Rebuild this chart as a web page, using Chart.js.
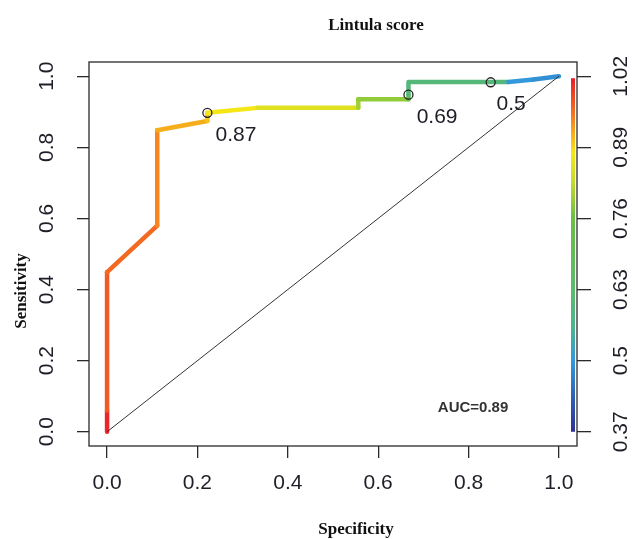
<!DOCTYPE html>
<html>
<head>
<meta charset="utf-8">
<title>Lintula score</title>
<script src="https://cdn.jsdelivr.net/npm/chart.js@4.4.1/dist/chart.umd.min.js"></script>
<style>
  html, body { margin: 0; padding: 0; background: #fff; }
  #wrap { width: 635px; height: 539px; }
</style>
</head>
<body>
<div id="wrap"><canvas id="roc" width="635" height="539"></canvas></div>
<script>
// ROC points: specificity axis, sensitivity, and the cutoff (colour) at each point
const rocX = [0, 0, 0, 0.111, 0.111, 0.222, 0.222, 0.333, 0.556, 0.556, 0.667, 0.667, 0.667, 0.849, 0.888, 0.944, 1];
const rocY = [0, 0.06, 0.449, 0.58, 0.848, 0.874, 0.897, 0.911, 0.911, 0.935, 0.935, 0.948, 0.984, 0.984, 0.984, 0.991, 1];
const rocCutoff = [1.02, 1.01, 0.97, 0.96, 0.94, 0.915, 0.9, 0.88, 0.855, 0.8, 0.79, 0.7, 0.6, 0.6, 0.6, 0.5, 0.49];

// printed cutoffs
const markX = [0.222, 0.667, 0.849];
const markY = [0.897, 0.948, 0.983];
const markLabels = ['0.87', '0.69', '0.5'];

// chance line
const chanceX = [0, 1];
const chanceY = [0, 1];

const axisTicks = [0, 0.2, 0.4, 0.6, 0.8, 1.0];
const cutoffTicks = [0.37, 0.5, 0.63, 0.76, 0.89, 1.02];
const cutoffMin = 0.37, cutoffMax = 1.02;

// colour key, bottom (low cutoff) to top
const keyValues = [0.37, 0.43, 0.50, 0.56, 0.63, 0.76, 0.83, 0.88, 0.93, 0.97, 1.02];
const keyColors = ['#2e3192', '#2d5fb0', '#3399db', '#4cb38f', '#5cbb6a', '#6abf45', '#c8dc2a', '#f5e616', '#f7941d', '#f15a24', '#e8192c'];

const aucText = 'AUC=0.89';

const tickFont = { family: "'Liberation Sans', Arial, sans-serif", size: 21 };
const tickColor = '#1e1e28';
const ink = '#2a2a2a';

function hexRgb(h) {
  const n = parseInt(h.slice(1), 16);
  return [(n >> 16) & 255, (n >> 8) & 255, n & 255];
}
function colorAt(v) {
  if (v <= keyValues[0]) return keyColors[0];
  for (let i = 1; i < keyValues.length; i++) {
    if (v <= keyValues[i]) {
      const t = (v - keyValues[i - 1]) / (keyValues[i] - keyValues[i - 1]);
      const a = hexRgb(keyColors[i - 1]), b = hexRgb(keyColors[i]);
      const c = a.map((x, k) => Math.round(x + (b[k] - x) * t));
      return 'rgb(' + c.join(',') + ')';
    }
  }
  return keyColors[keyColors.length - 1];
}

const pad = 0.04;
const cutPad = (cutoffMax - cutoffMin) * pad;

// text, box and colour key
const decor = {
  id: 'decor',
  afterDatasetsDraw(chart) {
    const c = chart.ctx, a = chart.chartArea;
    const x = chart.scales.x, y = chart.scales.y, y2 = chart.scales.y2;
    c.save();
    // colour key
    const top = y2.getPixelForValue(cutoffMax), bot = y2.getPixelForValue(cutoffMin);
    const g = c.createLinearGradient(0, bot, 0, top);
    keyValues.forEach((v, i) => g.addColorStop((v - cutoffMin) / (cutoffMax - cutoffMin), keyColors[i]));
    c.fillStyle = g;
    c.fillRect(a.right - 6, top + 2, 4, bot - top - 2);
    // box
    c.strokeStyle = ink;
    c.lineWidth = 1.3;
    c.strokeRect(a.left, a.top, a.right - a.left, a.bottom - a.top);
    // cutoff labels
    c.fillStyle = '#1e1e28';
    c.font = "21px 'Liberation Sans', Arial, sans-serif";
    c.textAlign = 'left';
    c.textBaseline = 'middle';
    markLabels.forEach((t, i) => {
      const w = c.measureText(t).width;
      c.fillText(t, x.getPixelForValue(markX[i]) + 0.2 * w, y.getPixelForValue(markY[i]) + 22);
    });
    // AUC
    c.fillStyle = '#333';
    c.font = "bold 15px 'Liberation Sans', Arial, sans-serif";
    c.textAlign = 'center';
    c.fillText(aucText, x.getPixelForValue(0.81), y.getPixelForValue(0.067));
    // titles
    c.fillStyle = '#111';
    c.font = "bold 17px 'Liberation Serif', 'Times New Roman', serif";
    c.fillText('Lintula score', (a.left + a.right) / 2 + 43, 26);
    c.fillText('Specificity', (a.left + a.right) / 2 + 23, 530);
    c.translate(22, (a.top + a.bottom) / 2 + 37);
    c.rotate(-Math.PI / 2);
    c.fillText('Sensitivity', 0, 0);
    c.restore();
  }
};

const setTicks = vals => s => { s.ticks = vals.map(v => ({ value: v })); };
const gridOpts = len => ({ drawOnChartArea: false, tickLength: len, color: ink, lineWidth: 1.3 });

new Chart(document.getElementById('roc'), {
  type: 'scatter',
  data: {
    datasets: [
      {
        label: 'cutoffs',
        data: markX.map((v, i) => ({ x: v, y: markY[i] })),
        pointRadius: 4.5,
        pointBackgroundColor: 'rgba(0,0,0,0)',
        pointBorderColor: '#222',
        pointBorderWidth: 1.3
      },
      {
        label: 'chance',
        data: chanceX.map((v, i) => ({ x: v, y: chanceY[i] })),
        showLine: true,
        borderColor: '#333',
        borderWidth: 1,
        pointRadius: 0
      },
      {
        label: 'ROC',
        data: rocX.map((v, i) => ({ x: v, y: rocY[i] })),
        showLine: true,
        borderWidth: 4.5,
        borderCapStyle: 'round',
        borderJoinStyle: 'round',
        pointRadius: 0,
        borderColor: colorAt(rocCutoff[0]),
        segment: { borderColor: ctx => colorAt(rocCutoff[ctx.p1DataIndex]) }
      }
    ]
  },
  options: {
    responsive: false,
    animation: false,
    devicePixelRatio: 1,
    layout: { padding: { top: 62, left: 0, right: 0, bottom: 0 } },
    plugins: { legend: { display: false }, tooltip: { enabled: false } },
    scales: {
      x: {
        type: 'linear', position: 'bottom', min: -pad, max: 1 + pad,
        afterBuildTicks: setTicks(axisTicks),
        afterFit: s => { s.height = 93; },
        ticks: { font: tickFont, color: tickColor, padding: 13, callback: v => v.toFixed(1) },
        grid: gridOpts(12),
        border: { display: false }
      },
      y: {
        type: 'linear', position: 'left', min: -pad, max: 1 + pad,
        afterBuildTicks: setTicks(axisTicks),
        afterFit: s => { s.width = 89; },
        ticks: { font: tickFont, color: tickColor, padding: 15, minRotation: 90, maxRotation: 90, crossAlign: 'center', callback: v => v.toFixed(1) },
        grid: gridOpts(12),
        border: { display: false }
      },
      y2: {
        type: 'linear', position: 'right', min: cutoffMin - cutPad, max: cutoffMax + cutPad,
        afterBuildTicks: setTicks(cutoffTicks),
        afterFit: s => { s.width = 58; },
        ticks: { font: tickFont, color: tickColor, padding: 10, minRotation: 90, maxRotation: 90, crossAlign: 'center', callback: v => String(+v.toFixed(2)) },
        grid: gridOpts(14),
        border: { display: false }
      }
    }
  },
  plugins: [decor]
});
</script>
</body>
</html>
